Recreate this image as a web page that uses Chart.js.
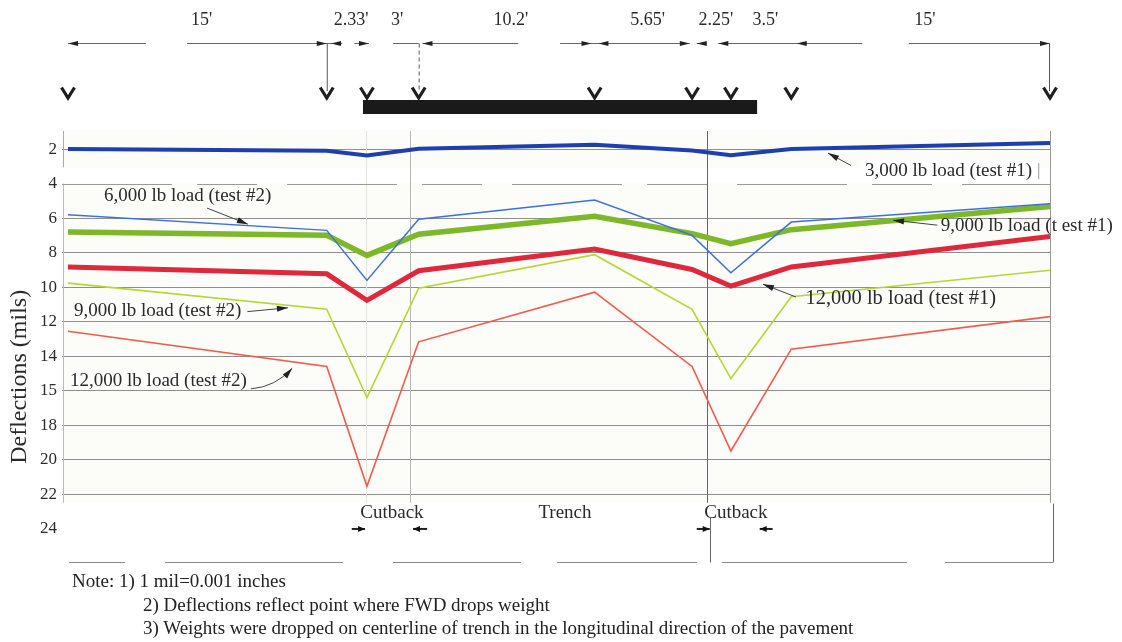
<!DOCTYPE html>
<html><head><meta charset="utf-8">
<script src="https://cdn.jsdelivr.net/npm/chart.js@4.4.1/dist/chart.umd.min.js"></script>
<style>
html,body{margin:0;padding:0;background:#fff;}
#wrap{position:relative;width:1122px;height:642px;overflow:hidden;background:#fff;}
canvas{position:absolute;left:0;top:0;}
.note{position:absolute;font-family:'Liberation Serif','Times New Roman',serif;font-size:19px;color:#222;white-space:nowrap;line-height:22px;}
</style></head><body>
<div id="wrap"><canvas id="c" width="1122" height="642"></canvas>
<div class="note" style="left:72px;top:570px">Note: 1) 1 mil=0.001 inches</div>
<div class="note" style="left:143px;top:594px">2) Deflections reflect point where FWD drops weight</div>
<div class="note" style="left:143px;top:617px">3) Weights were dropped on centerline of trench in the longitudinal direction of the pavement</div>
</div>
<script>
// ---------- data ----------
const stations = [0, 15, 17.33, 20.33, 30.53, 36.18, 38.43, 41.93, 56.93];   // ft, FWD drop points
const spacingLabels = ["15'", "2.33'", "3'", "10.2'", "5.65'", "2.25'", "3.5'", "15'"];
const load3000Test1  = [2.0, 2.1, 2.37, 1.98, 1.75, 2.08, 2.35, 2.0, 1.65];
const load6000Test2  = [5.81, 6.71, 9.61, 6.06, 4.95, 7.0, 9.17, 6.23, 5.17];
const load9000Test1  = [6.81, 7.0, 8.16, 6.93, 5.9, 6.9, 7.48, 6.67, 5.33];
const load12000Test1 = [8.84, 9.23, 10.77, 9.05, 7.79, 8.98, 9.94, 8.83, 7.06];
const load9000Test2  = [9.77, 11.28, 16.4, 10.06, 8.12, 11.29, 15.3, 10.56, 9.02];
const load12000Test2 = [12.56, 14.6, 21.55, 13.17, 10.29, 14.6, 19.5, 13.6, 11.71];
const yTickValues = [2, 4, 6, 8, 10, 12, 14, 16, 18, 20, 22, 24];
const yTickLabels = ['2', '4', '6', '8', '10', '12', '14', '15', '18', '20', '22', '24'];
const zoneLabels = ['Cutback', 'Trench', 'Cutback'];
const zoneLabelX = [18.78, 28.81, 38.72];
const yTitle = 'Deflections (mils)';

// ---------- annotation placement (data units: ft, mils) ----------
const seriesNotes = [
  {text: '6,000 lb load (test #2)',  x: 2.09,  y: 4.72,  from: [8.06, 5.42],  to: [10.43, 6.35], size: 19},
  {text: '9,000 lb load (test #2)',  x: 0.35,  y: 11.39, from: [10.4, 11.42], to: [12.75, 11.2], size: 19},
  {text: '12,000 lb load (test #2)', x: 0.12,  y: 15.45, from: [10.6, 15.9],  to: [13.0, 14.7], curve: true, size: 19},
  {text: '3,000 lb load (test #1)',  x: 46.2,  y: 3.28,  from: [45.4, 2.95],  to: [44.06, 2.23], box: true, size: 19},
  {text: '9,000 lb load (t est #1)', x: 50.6,  y: 6.46,  from: [50.4, 6.41],  to: [47.83, 6.12], size: 19},
  {text: '12,000 lb load (test #1)', x: 42.75, y: 10.64, from: [42.2, 10.57], to: [40.29, 9.83], size: 20.5}
];

const SERIF = "'Liberation Serif','Times New Roman',serif";
function pts(vals){ return stations.map((s,i)=>({x:s, y:vals[i]})); }

function arrowHead(ctx, x1, y1, x2, y2, len, half){
  const a = Math.atan2(y2-y1, x2-x1), c = Math.cos(a), s = Math.sin(a);
  ctx.beginPath();
  ctx.moveTo(x2, y2);
  ctx.lineTo(x2 - len*c + half*s, y2 - len*s - half*c);
  ctx.lineTo(x2 - len*c - half*s, y2 - len*s + half*c);
  ctx.closePath(); ctx.fill();
}

const deco = {
  id: 'deco',
  beforeDraw(chart){
    const {ctx, chartArea:a, scales:{x, y}} = chart;
    ctx.save();
    ctx.fillStyle = '#fcfcf8';
    ctx.fillRect(a.left, y.getPixelForValue(0.85), a.right - a.left, y.getPixelForValue(3.1) - y.getPixelForValue(0.85));
    ctx.fillRect(a.left, y.getPixelForValue(3.97), a.right - a.left, y.getPixelForValue(22.5) - y.getPixelForValue(3.97));
    ctx.restore();
  },
  beforeDatasetsDraw(chart){
    const {ctx, chartArea:a, scales:{x, y}} = chart;
    ctx.save();
    const vline = (ft, m1, m2, color, w) => {
      const px = Math.round(x.getPixelForValue(ft)) + 0.5;
      ctx.strokeStyle = color; ctx.lineWidth = w || 1;
      ctx.beginPath(); ctx.moveTo(px, y.getPixelForValue(m1)); ctx.lineTo(px, y.getPixelForValue(m2)); ctx.stroke();
    };
    vline(-0.3, 0.95, 3.05, '#aaa');
    vline(-0.3, 4.0, 22.5, '#bbb');
    vline(17.28, 0.95, 22.5, '#e4e4d8');
    vline(19.83, 0.95, 22.5, '#b8b8b0');
    vline(37.04, 0.95, 22.5, '#666');
    vline(56.93, 0.95, 22.5, '#999');
    // dashed edge at 4 mils
    ctx.setLineDash([110, 25, 60, 30]);
    ctx.strokeStyle = '#9a9a9a'; ctx.lineWidth = 1;
    const p4 = Math.round(y.getPixelForValue(4)) + 0.5;
    ctx.beginPath(); ctx.moveTo(a.left, p4); ctx.lineTo(a.right, p4); ctx.stroke();
    ctx.restore();
  },
  afterDraw(chart){
    const {ctx, chartArea:a, scales:{x, y}} = chart;
    const X = v => x.getPixelForValue(v), Y = v => y.getPixelForValue(v);
    ctx.save();
    ctx.fillStyle = '#2a2a2a'; ctx.strokeStyle = '#2a2a2a';

    // ---- top dimension diagram ----
    ctx.font = '18px ' + SERIF; ctx.textAlign = 'center'; ctx.textBaseline = 'middle';
    for (let i = 0; i < spacingLabels.length; i++) {
      const mid = (stations[i] + stations[i+1]) / 2 + 0.25;
      ctx.fillText(spacingLabels[i], X(mid), 20);
    }
    const dimY = 43.5;
    const dimSegs = [[0,4.52],[6.9,15],[15,15.9],[16.6,17.45],[18.85,20.33],[20.55,26.1],[28.53,36.05],[36.45,37.0],[37.7,46.04],[48.75,56.93]];
    ctx.strokeStyle = '#666'; ctx.lineWidth = 1;
    dimSegs.forEach(([s,e]) => { ctx.beginPath(); ctx.moveTo(X(s), dimY); ctx.lineTo(X(e), dimY); ctx.stroke(); });
    ctx.fillStyle = '#222';
    const heads = [[0,-1],[15,1],[15.25,-1],[17.45,1],[20.55,-1],[30.35,1],[30.75,-1],[36.05,1],[36.45,-1],[37.7,-1],[42.25,-1],[56.93,1]];
    heads.forEach(([ft,d]) => arrowHead(ctx, X(ft) - d*10, dimY, X(ft), dimY, 10, 2.6));
    // vertical leaders to markers
    ctx.strokeStyle = '#555';
    ctx.beginPath(); ctx.moveTo(X(15)+0.5, dimY); ctx.lineTo(X(15)+0.5, 91); ctx.stroke();
    ctx.beginPath(); ctx.moveTo(X(56.93)-0.5, dimY); ctx.lineTo(X(56.93)-0.5, 91); ctx.stroke();
    ctx.setLineDash([4,3]);
    ctx.beginPath(); ctx.moveTo(X(20.33)+0.5, dimY); ctx.lineTo(X(20.33)+0.5, 91); ctx.stroke();
    ctx.setLineDash([]);
    // black bar (trench + cutback extent)
    ctx.fillStyle = '#1a1a1a';
    ctx.fillRect(X(17.1), 100, X(39.95) - X(17.1), 14);
    // V markers at drop points
    ctx.strokeStyle = '#1e1e1e'; ctx.lineWidth = 3.2; ctx.lineJoin = 'miter'; ctx.lineCap = 'butt';
    stations.forEach(s => {
      const cx = X(s);
      ctx.beginPath(); ctx.moveTo(cx-6.5, 87.5); ctx.lineTo(cx, 98); ctx.lineTo(cx+6.5, 87.5); ctx.stroke();
    });

    // ---- series notes with leader arrows ----
    ctx.textAlign = 'left'; ctx.textBaseline = 'middle';
    seriesNotes.forEach(n => {
      ctx.font = n.size + 'px ' + SERIF;
      const tx = X(n.x), ty = Y(n.y);
      if (n.box) {
        const w = ctx.measureText(n.text).width;
        ctx.fillStyle = '#fff'; ctx.fillRect(tx - 4, ty - 11, w + 10, 21);
        ctx.strokeStyle = '#999'; ctx.lineWidth = 1;
        ctx.beginPath(); ctx.moveTo(tx + w + 6.5, ty - 8); ctx.lineTo(tx + w + 6.5, ty + 8); ctx.stroke();
      }
      ctx.fillStyle = '#2a2a2a';
      ctx.fillText(n.text, tx, ty);
      const x1 = X(n.from[0]), y1 = Y(n.from[1]), x2 = X(n.to[0]), y2 = Y(n.to[1]);
      ctx.strokeStyle = '#444'; ctx.lineWidth = 1;
      ctx.beginPath(); ctx.moveTo(x1, y1);
      if (n.curve) {
        const cx = (x1 + x2)/2 + 4, cy = y1 - 2;
        ctx.quadraticCurveTo(cx, cy, x2, y2); ctx.stroke();
        ctx.fillStyle = '#222'; arrowHead(ctx, cx, cy, x2, y2, 11, 3);
      } else {
        ctx.lineTo(x2, y2); ctx.stroke();
        ctx.fillStyle = '#222'; arrowHead(ctx, x1, y1, x2, y2, 11, 3);
      }
    });

    // ---- zone labels below plot ----
    ctx.fillStyle = '#2a2a2a'; ctx.font = '19px ' + SERIF; ctx.textAlign = 'center';
    zoneLabels.forEach((t,i) => ctx.fillText(t, X(zoneLabelX[i]), Y(23.1)));
    const zy = Y(24.02);
    ctx.strokeStyle = '#222'; ctx.lineWidth = 2; ctx.fillStyle = '#111';
    [[16.45,17.22],[20.82,20.0],[36.45,37.2],[40.85,40.1]].forEach(([s,e]) => {
      ctx.beginPath(); ctx.moveTo(X(s), zy); ctx.lineTo(X(e), zy); ctx.stroke();
      arrowHead(ctx, X(s), zy, X(e), zy, 7, 3);
    });
    // bottom frame
    ctx.strokeStyle = '#8a8a8a'; ctx.lineWidth = 1.2;
    const by = Math.round(Y(25.94)) + 0.5;
    [[0.06,3.3],[5.62,15.94],[18.84,26.26],[28.35,36.46],[37.91,48.64],[50.84,57.1]].forEach(([s,e]) => {
      ctx.beginPath(); ctx.moveTo(X(s), by); ctx.lineTo(X(e), by); ctx.stroke();
    });
    ctx.strokeStyle = '#666'; ctx.lineWidth = 1;
    ctx.beginPath(); ctx.moveTo(Math.round(X(57.1))+0.5, Y(22.55)); ctx.lineTo(Math.round(X(57.1))+0.5, by); ctx.stroke();
    ctx.beginPath(); ctx.moveTo(Math.round(X(37.22))+0.5, Y(23.33)); ctx.lineTo(Math.round(X(37.22))+0.5, by); ctx.stroke();

    // ---- y title ----
    ctx.save();
    ctx.translate(20, Y(15.2)); ctx.rotate(-Math.PI/2);
    ctx.font = '24px ' + SERIF; ctx.fillStyle = '#2a2a2a'; ctx.textAlign = 'center'; ctx.textBaseline = 'middle';
    ctx.fillText(yTitle, 0, 0);
    ctx.restore();

    ctx.restore();
  }
};

const mk = (label, vals, color, width) => ({
  label, data: pts(vals), borderColor: color, backgroundColor: color,
  borderWidth: width, pointRadius: 0, tension: 0, fill: false,
  borderJoinStyle: 'miter'
});

new Chart(document.getElementById('c'), {
  type: 'line',
  data: {
    datasets: [
      mk('3,000 lb load (test #1)', load3000Test1, '#1f3fae', 4),
      mk('6,000 lb load (test #2)', load6000Test2, '#3e6fdf', 1.5),
      mk('9,000 lb load (test #2)', load9000Test2, '#b6d636', 1.6),
      mk('12,000 lb load (test #2)', load12000Test2, '#f25a4c', 1.6),
      mk('9,000 lb load (test #1)', load9000Test1, '#7cb828', 5.5),
      mk('12,000 lb load (test #1)', load12000Test1, '#e0283c', 5)
    ]
  },
  options: {
    responsive: false, animation: false, devicePixelRatio: 1,
    layout: {padding: {left: 0, top: 131, right: 72, bottom: 97}},
    plugins: {legend: {display: false}, tooltip: {enabled: false}},
    scales: {
      x: {type: 'linear', min: -0.3478, max: 56.93, display: false},
      y: {
        type: 'linear', reverse: true, min: 0.95, max: 24.95,
        afterBuildTicks: s => { s.ticks = yTickValues.map(v => ({value: v})); },
        afterFit: s => { s.width = 62; },
        ticks: {
          font: {family: SERIF, size: 17}, color: '#2a2a2a', padding: 5,
          callback: (v) => { const i = yTickValues.indexOf(v); return i >= 0 ? yTickLabels[i] : ''; }
        },
        grid: {
          drawTicks: false,
          color: c => (c.tick && (c.tick.value === 24 || c.tick.value === 4)) ? 'rgba(0,0,0,0)' : '#8e8e8e',
          lineWidth: 1
        },
        border: {display: false}
      }
    }
  },
  plugins: [deco]
});
</script>
</body></html>
